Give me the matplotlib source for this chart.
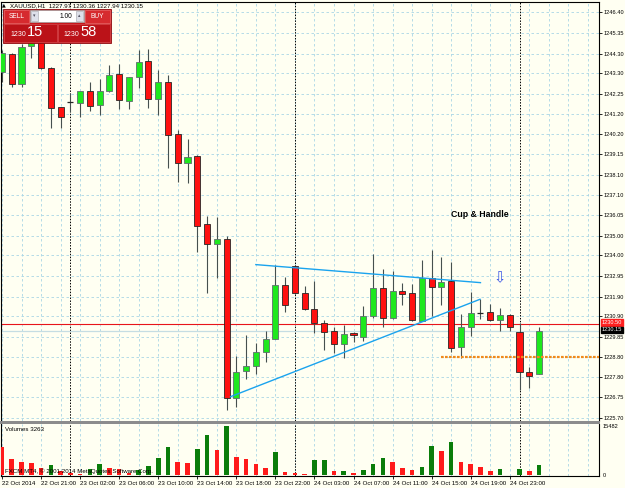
"""XAUUSD H1 candlestick chart with volumes, MT4 style."""
import matplotlib
matplotlib.use("Agg")
import matplotlib.pyplot as plt
import matplotlib.transforms as mtransforms
from matplotlib.patches import Rectangle
import numpy as np

plt.rcParams["font.family"] = ["Liberation Sans", "DejaVu Sans"]

# ── data ────────────────────────────────────────────────────────────────
opens = [1243.36, 1244.27, 1242.74, 1244.68, 1245.19, 1243.56, 1241.57, 1241.83, 1241.77, 1242.39,
         1241.67, 1242.39, 1243.25, 1241.88, 1243.10, 1243.92, 1241.98, 1242.85, 1240.19, 1238.71,
         1239.07, 1235.60, 1234.58, 1234.84, 1226.72, 1228.10, 1228.36, 1229.07, 1229.73, 1232.49,
         1233.46, 1232.08, 1231.26, 1230.55, 1230.14, 1229.48, 1230.04, 1229.84, 1230.91, 1232.34,
         1230.81, 1232.18, 1232.08, 1230.65, 1232.85, 1232.39, 1232.69, 1229.33, 1230.35, 1231.06,
         1231.11, 1230.70, 1230.96, 1230.09, 1228.05, 1227.97]
highs = [1244.48, 1244.33, 1244.78, 1245.35, 1245.35, 1243.61, 1241.57, 1242.29, 1242.39, 1242.85,
         1243.00, 1243.71, 1243.76, 1243.10, 1244.48, 1244.53, 1243.46, 1243.20, 1240.40, 1239.94,
         1239.12, 1236.01, 1235.96, 1234.99, 1228.87, 1229.94, 1229.53, 1230.14, 1233.51, 1232.90,
         1233.51, 1232.44, 1232.69, 1230.70, 1230.34, 1230.45, 1230.09, 1231.42, 1234.07, 1233.30,
         1233.20, 1232.59, 1232.54, 1233.76, 1234.27, 1233.92, 1233.66, 1231.01, 1232.13, 1231.77,
         1231.52, 1231.32, 1231.01, 1230.55, 1228.30, 1230.36]
lows = [1242.85, 1242.59, 1242.59, 1244.07, 1243.51, 1240.50, 1240.50, 1241.32, 1241.06, 1241.37,
        1241.16, 1242.34, 1241.47, 1241.47, 1242.54, 1241.52, 1241.16, 1238.46, 1237.74, 1237.69,
        1234.17, 1232.08, 1232.85, 1226.11, 1226.26, 1227.69, 1227.95, 1228.56, 1229.73, 1231.11,
        1232.03, 1231.21, 1230.03, 1229.17, 1229.02, 1228.76, 1229.58, 1229.63, 1230.81, 1230.35,
        1230.76, 1231.47, 1230.65, 1230.65, 1230.91, 1231.47, 1229.07, 1228.76, 1229.89, 1230.76,
        1230.65, 1230.14, 1230.14, 1227.13, 1227.23, 1227.94]
closes = [1244.33, 1242.74, 1244.63, 1245.19, 1243.56, 1241.52, 1241.06, 1241.84, 1242.39, 1241.62,
          1242.39, 1243.20, 1241.93, 1243.10, 1243.87, 1241.98, 1242.85, 1240.14, 1238.71, 1239.02,
          1235.50, 1234.58, 1234.84, 1226.72, 1228.05, 1228.36, 1229.07, 1229.73, 1232.49, 1231.47,
          1232.08, 1231.26, 1230.55, 1230.09, 1229.48, 1229.99, 1229.94, 1230.91, 1232.34, 1230.81,
          1232.18, 1232.03, 1230.70, 1232.85, 1232.39, 1232.64, 1229.27, 1230.35, 1231.06, 1231.06,
          1230.70, 1230.96, 1230.35, 1228.05, 1227.85, 1230.15]
volumes = [8980, 4950, 4000, 3700, 2100, 3000, 1300, 600, 450, 1900,
           3600, 2200, 2000, 700, 1500, 2800, 5500, 8700, 4000, 3900,
           8300, 12700, 8000, 15482, 5600, 5200, 3400, 2100, 7200, 950,
           600, 300, 4600, 4700, 1200, 1250, 600, 1500, 3600, 5500,
           4000, 2100, 1500, 2500, 9000, 7500, 10300, 4100, 3600, 2500,
           1200, 2000, 150, 2000, 1200, 3263]

time_labels = ["22 Oct 2014", "22 Oct 21:00", "23 Oct 02:00", "23 Oct 06:00", "23 Oct 10:00",
               "23 Oct 14:00", "23 Oct 18:00", "23 Oct 22:00", "24 Oct 03:00", "24 Oct 07:00",
               "24 Oct 11:00", "24 Oct 15:00", "24 Oct 19:00", "24 Oct 23:00"]
label_bars = [0, 4, 8, 12, 16, 20, 24, 28, 32, 36, 40, 44, 48, 52]
price_ticks = [1246.40, 1245.35, 1244.30, 1243.30, 1242.25, 1241.20, 1240.20, 1239.15, 1238.10,
               1237.10, 1236.05, 1235.00, 1234.00, 1232.95, 1231.90, 1230.90, 1229.85, 1228.80,
               1227.80, 1226.75, 1225.70]
separator_bars = [7, 30, 53]

ask_price, bid_price = 1230.50, 1230.15
support_price, support_start = 1228.80, 45
upper_line_bars, upper_line_prices = [26.0, 49.0], [1233.53, 1232.61]
lower_line_bars, lower_line_prices = [23.4, 48.95], [1226.79, 1231.76]
pattern_label_bar, pattern_label_price = 46.0, 1236.11
arrow_bar, arrow_price = 51.0, 1232.86

# ── figure layout (pixel based) ─────────────────────────────────────────
W, H = 625, 488
BG = "#fffff2"
GRID = "#a9d6e5"
FS = 4.1  # MT4 uses a tiny UI font
fig = plt.figure(figsize=(W / 100, H / 100), dpi=100, facecolor=BG)
ax = fig.add_axes([1 / W, 1 - 421 / H, 598 / W, 419 / H], facecolor=BG)
axv = fig.add_axes([1 / W, 1 - 476 / H, 598 / W, 52 / H], facecolor=BG, sharex=ax)

n = len(opens)
idx = np.arange(n)
o, h, l, c = map(np.array, (opens, highs, lows, closes))

# grid
for a in (ax, axv):
    for b in np.arange(0, 62, 2):
        a.axvline(b, color=GRID, lw=0.6, ls=(0, (3, 3)), zorder=0)
for p in price_ticks:
    ax.axhline(p, color=GRID, lw=0.6, ls=(0, (3, 3)), zorder=0)

# period separators
for b in separator_bars:
    for a in (ax, axv):
        a.axvline(b, color="black", lw=0.7, ls=(0, (1.5, 1.5)), zorder=1)

# price lines
ax.axhline(ask_price, color="#e8141a", lw=0.8, zorder=1)
ax.axhline(bid_price, color="#c5dde3", lw=0.9, zorder=1)

# candles
up = c >= o
doji = np.abs(c - o) < 0.03
ax.vlines(idx, l, h, color="#46504f", lw=0.8, zorder=2)
body_bot = np.minimum(o, c)
body_h = np.abs(c - o)
mask = ~doji
ax.bar(idx[mask], body_h[mask], bottom=body_bot[mask], width=0.62,
       color=np.where(up[mask], "#1ee81e", "#ff1010"),
       edgecolor=np.where(up[mask], "#5e6e6e", "#262626"), linewidth=0.6, zorder=3)
ax.hlines(c[doji], idx[doji] - 0.31, idx[doji] + 0.31, color="#262626", lw=0.9, zorder=3)

# trend lines and support
ax.plot(upper_line_bars, upper_line_prices, color="#1aa3ee", lw=1.0, zorder=4)
ax.plot(lower_line_bars, lower_line_prices, color="#1aa3ee", lw=1.0, zorder=4)
ax.plot([support_start, 61.2], [support_price, support_price], color="#f08a1c", lw=1.6,
        ls=(0, (1.2, 0.6)), zorder=4, solid_capstyle="butt")

ax.text(pattern_label_bar, pattern_label_price, "Cup & Handle", fontsize=6.3,
        fontweight="bold", ha="left", va="center", zorder=5)
ax.text(arrow_bar, arrow_price, "\u21e9", fontsize=10.5, color="#3b55e6", ha="center",
        va="center", family=["DejaVu Sans"], zorder=5)

# axis cosmetics, main panel
ax.set_xlim(-0.1, 61.14)
ax.set_ylim(1225.55, 1246.93)
ax.yaxis.tick_right()
ax.set_yticks(price_ticks)
ax.set_yticklabels([f"{p:.2f}" for p in price_ticks])
ax.tick_params(axis="y", labelsize=FS, length=2, width=0.6, pad=1)
ax.tick_params(axis="x", bottom=False, labelbottom=False)
for s in ("left", "top", "right"):
    ax.spines[s].set_linewidth(0.8)
ax.spines["bottom"].set_visible(False)

yt = mtransforms.blended_transform_factory(ax.transAxes, ax.transData)
ax.text(1.005, ask_price + 0.08, f"{ask_price:.2f}", transform=yt, fontsize=FS, color="white",
        va="center", ha="left", zorder=6, clip_on=False,
        bbox=dict(boxstyle="square,pad=0.12", fc="#ff2020", ec="#ff2020"))
ax.text(1.005, bid_price + 0.05, f"{bid_price:.2f}", transform=yt, fontsize=FS, color="white",
        va="center", ha="left", zorder=7, clip_on=False,
        bbox=dict(boxstyle="square,pad=0.12", fc="black", ec="black"))

# volumes
vols = np.array(volumes)
vcol = ["#ff1a1a"] + ["#0a7d0a" if vols[i] > vols[i - 1] else "#ff1a1a" for i in range(1, n)]
axv.bar(idx, vols, width=0.47, color=vcol, zorder=3)
axv.set_ylim(-316, 16100)
axv.yaxis.tick_right()
axv.set_yticks([0, max(volumes)])
axv.set_yticklabels(["0", str(max(volumes))])
axv.tick_params(axis="y", labelsize=FS, length=0, pad=2.5)
axv.set_xticks(label_bars)
axv.set_xticklabels(time_labels, ha="left")
axv.tick_params(axis="x", labelsize=FS + 0.3, length=2, width=0.6, pad=1.5)
axv.spines["top"].set_visible(False)
for s in ("left", "bottom", "right"):
    axv.spines[s].set_linewidth(0.8)
axv.text(0.006, 0.9, f"Volumes {volumes[-1]}", transform=axv.transAxes, fontsize=FS + 0.3,
         va="center", ha="left")
axv.text(0.006, 0.1, "FXCM MT4, \u00a9 2001-2014 MetaQuotes Software Corp.",
         transform=axv.transAxes, fontsize=FS + 0.3, va="center", ha="left", zorder=5)


# ── overlays in pixel coordinates ───────────────────────────────────────
def px_rect(x0, y0, x1, y1, **kw):
    fig.add_artist(Rectangle((x0 / W, 1 - y1 / H), (x1 - x0) / W, (y1 - y0) / H,
                             transform=fig.transFigure, zorder=10, **kw))


def px_text(x, y, s, **kw):
    fig.text(x / W, 1 - y / H, s, zorder=11, **kw)


# panel separator
px_rect(0, 421, 600, 424, fc="#8c8c8c", ec="none")

# header
px_text(4, 5, "\u25b2", fontsize=3.5, ha="center", va="center", family=["DejaVu Sans"])
px_text(10, 5.5, f"XAUUSD,H1  {opens[-1]:.2f} {highs[-1]:.2f} {lows[-1]:.2f} {closes[-1]:.2f}",
        fontsize=FS + 0.3, ha="left", va="center")

# one-click trading panel
px_rect(3, 9, 111, 43, fc="#c8161c", ec="#8e0c10", lw=0.6)
px_rect(4, 10, 29, 23, fc="#d62a2e", ec="#e86a6a", lw=0.5)
px_rect(85, 10, 110, 23, fc="#d62a2e", ec="#e86a6a", lw=0.5)
px_rect(30, 10, 84, 22, fc="white", ec="#9a9a9a", lw=0.5)
px_rect(31, 11, 38, 21, fc="#dde0ea", ec="#a0a0a8", lw=0.4)
px_rect(76, 11, 83, 21, fc="#dde0ea", ec="#a0a0a8", lw=0.4)
px_rect(4, 24, 57, 42, fc="#bb1218", ec="#d44a4e", lw=0.5)
px_rect(58, 24, 110, 42, fc="#bb1218", ec="#d44a4e", lw=0.5)
px_text(16.5, 16.5, "SELL", fontsize=4.8, color="white", ha="center", va="center")
px_text(97.5, 16.5, "BUY", fontsize=4.8, color="white", ha="center", va="center")
px_text(72, 16, "1.00", fontsize=4.8, color="black", ha="right", va="center")
px_text(34.5, 16, "\u25be", fontsize=3.5, color="#505060", ha="center", va="center",
        family=["DejaVu Sans"])
px_text(79.5, 16, "\u25b4", fontsize=3.5, color="#505060", ha="center", va="center",
        family=["DejaVu Sans"])
px_text(10, 35, "1230", fontsize=5, color="white", ha="left", va="center")
px_text(27, 32.5, "15", fontsize=10.5, color="white", ha="left", va="center")
px_text(63, 35, "1230", fontsize=5, color="white", ha="left", va="center")
px_text(80, 32.5, "58", fontsize=10.5, color="white", ha="left", va="center")

fig.savefig("out.png", dpi=100, facecolor=BG)
